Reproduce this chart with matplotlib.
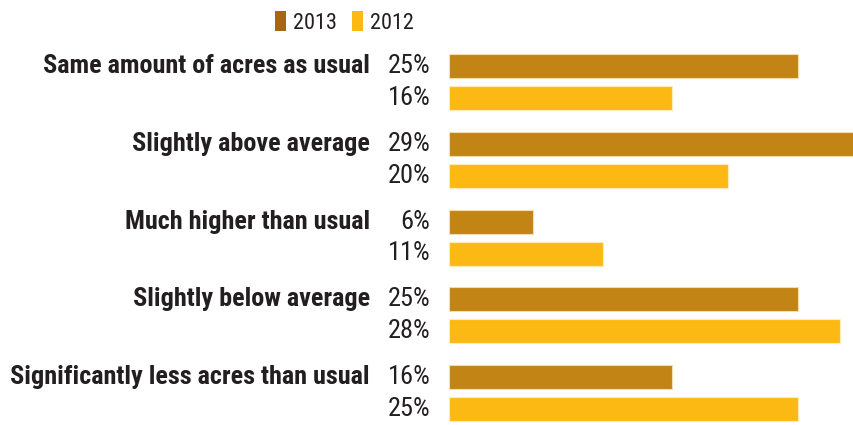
import matplotlib
matplotlib.use("Agg")
import matplotlib.pyplot as plt
from matplotlib.patches import Patch

plt.rcParams['font.family'] = ['Roboto Condensed', 'Roboto', 'DejaVu Sans']

categories = ["Same amount of acres as usual", "Slightly above average",
              "Much higher than usual", "Slightly below average",
              "Significantly less acres than usual"]
vals_2013 = [25, 29, 6, 25, 16]
vals_2012 = [16, 20, 11, 28, 25]
years = ["2013", "2012"]
c13 = "#c28414"
c12 = "#fdb913"
ink = "#231f20"

fig = plt.figure(figsize=(8.54, 4.25), dpi=100)
ax = fig.add_axes([449 / 854, 0, 405 / 854, 1])
ax.set_xlim(0, 29)
ax.set_ylim(425, 0)
ax.axis("off")

gap = 77.75
cat_texts = []
for i, cat in enumerate(categories):
    y13 = 66 + gap * i
    y12 = y13 + 32
    ax.barh(y13, vals_2013[i], height=24, color=c13, edgecolor="#f3dcb0", linewidth=0.8)
    ax.barh(y12, vals_2012[i], height=24, color=c12, edgecolor="#feebb8", linewidth=0.8)
    ax.annotate(f"{vals_2013[i]}%", (0, y13), xytext=(-13.5, 0), textcoords="offset points",
                ha="right", va="center", fontsize=19, color=ink, annotation_clip=False)
    ax.annotate(f"{vals_2012[i]}%", (0, y12), xytext=(-13.5, 0), textcoords="offset points",
                ha="right", va="center", fontsize=19, color=ink, annotation_clip=False)
    t = ax.annotate(cat, (0, y13), xytext=(-57, 0), textcoords="offset points",
                    ha="right", va="center", fontsize=17, fontweight="bold", color=ink,
                    annotation_clip=False)
    cat_texts.append(t)

# size the bold labels so the longest one is as wide as in the reference
r = fig.canvas.get_renderer()
widest = max(t.get_window_extent(r).width for t in cat_texts)
for t in cat_texts:
    t.set_fontsize(17 * 360 / widest)

handles = [Patch(facecolor="#aa6510"), Patch(facecolor=c12)]
fig.legend(handles, years, loc="upper left", bbox_to_anchor=(255 / 854, 1 + 9 / 425), ncol=2,
           frameon=False, fontsize=16, handlelength=0.5, handleheight=1.0,
           handletextpad=0.3, columnspacing=0.7, labelcolor=ink)

fig.savefig("out.png", dpi=100)
